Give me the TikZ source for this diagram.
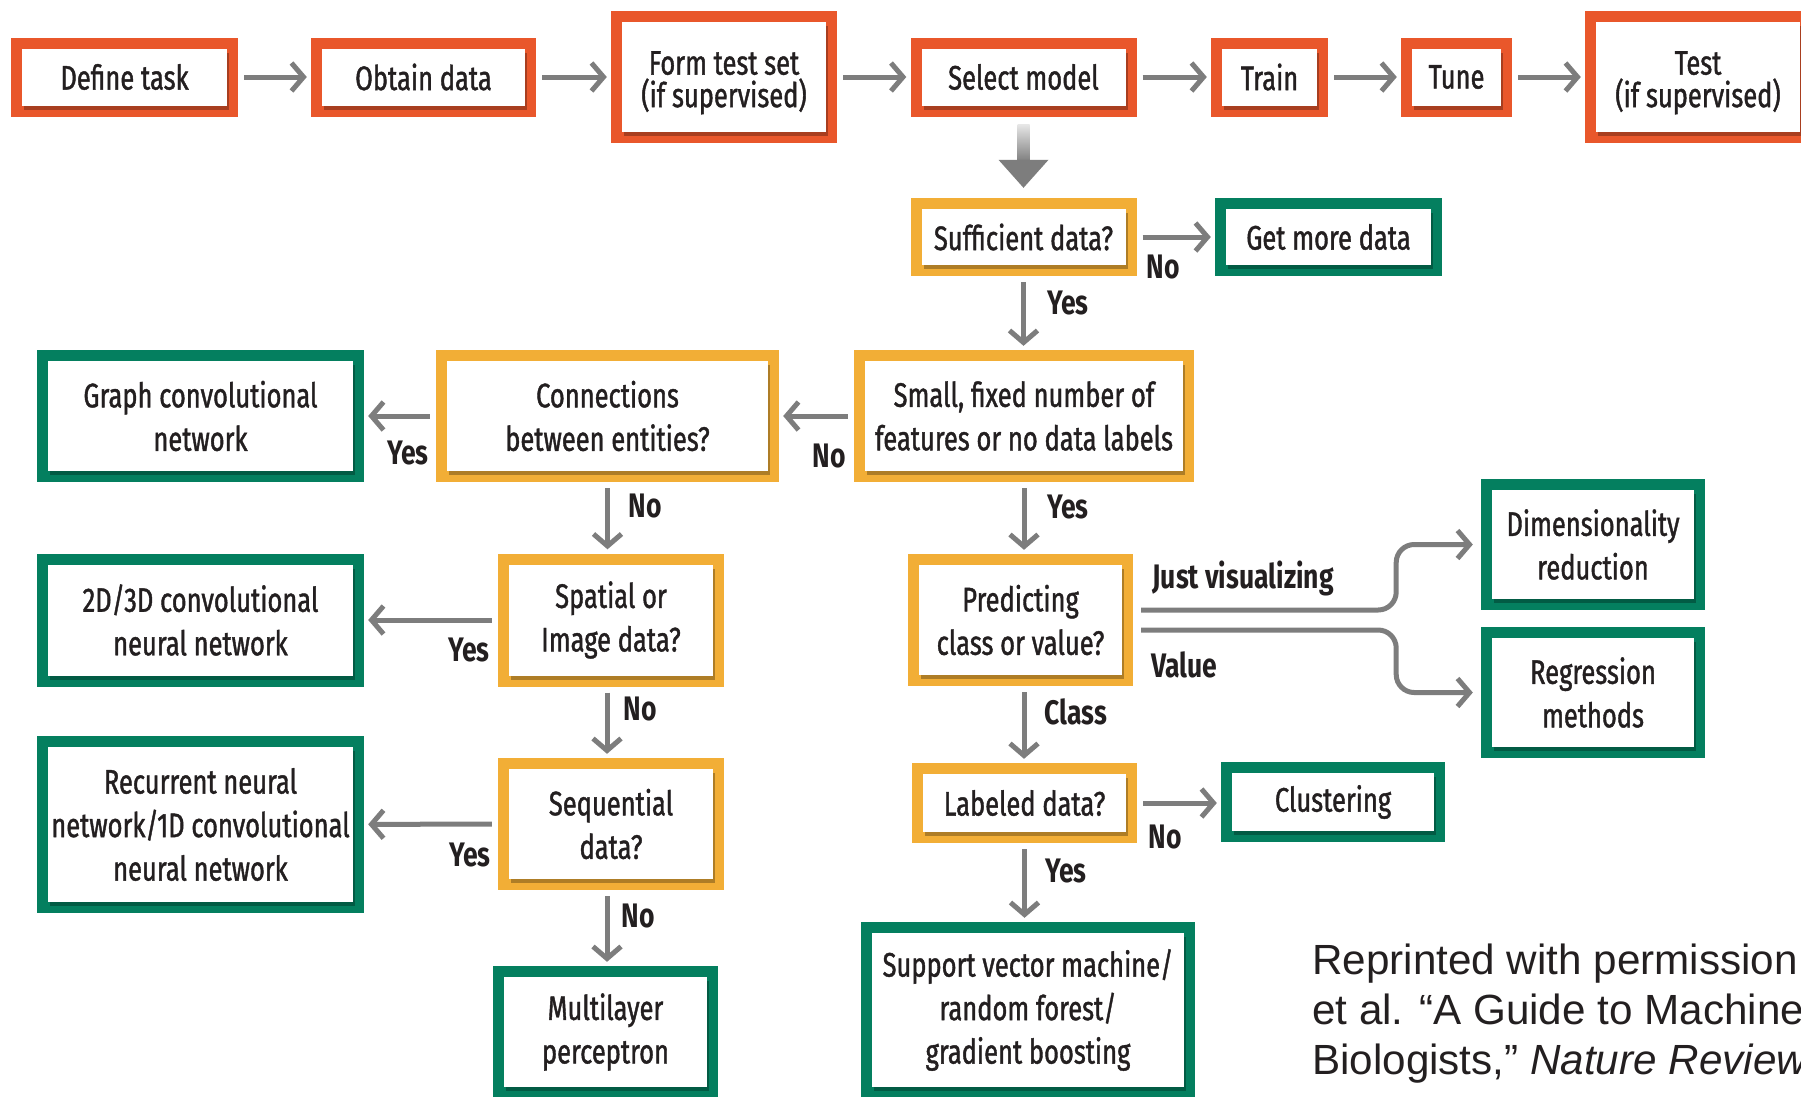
\documentclass[tikz,border=0pt]{standalone}
\usepackage{fontspec}
\setmainfont{Liberation Sans}
\newfontfamily\boxfont[FakeStretch=0.75,FakeBold=1.2]{Fira Sans}
\newfontfamily\labfont[FakeStretch=0.78]{Fira Sans}
\newcommand\boxtext{\boxfont\fontsize{34}{43.5}\selectfont}
\newcommand\toptext{\boxfont\fontsize{34}{32.5}\selectfont}
\newcommand\labtext{\labfont\bfseries\fontsize{34}{40}\selectfont}
\newcommand\captext{\fontsize{42.2}{50}\selectfont}
% extra head room that lowers a two-line heading a little
\newcommand\lowerstrut{\rule{0pt}{35pt}}
\usetikzlibrary{arrows.meta}

\definecolor{orangeF}{RGB}{233,87,43}
\definecolor{amberF}{RGB}{242,174,54}
\definecolor{greenF}{RGB}{4,127,95}
\definecolor{arrowgray}{RGB}{125,125,125}
\definecolor{ink}{RGB}{35,31,32}

\tikzset{
  panel/.style={rectangle, fill=#1, inner sep=0pt, align=center,
    font=\boxtext, text=ink,
    path picture={
      \fill[black, opacity=0.28]
        ([xshift=13pt,yshift=7pt]path picture bounding box.south west) rectangle
        ([xshift=-9pt,yshift=-15pt]path picture bounding box.north east);
      \fill[white]
        ([xshift=11pt,yshift=11pt]path picture bounding box.south west) rectangle
        ([xshift=-11pt,yshift=-11pt]path picture bounding box.north east);
    }},
  obox/.style={panel=orangeF, font=\toptext},
  ybox/.style={panel=amberF},
  gbox/.style={panel=greenF},
  flow/.style={draw=arrowgray, line width=5pt,
    -{Straight Barb[length=12pt,width=28pt]},
    shorten <=6pt, shorten >=4pt},
  curveflow/.style={flow, rounded corners=18pt, shorten <=8pt, shorten >=8pt},
  lab/.style={font=\labtext, text=ink, inner sep=0pt},
}

\begin{document}
\begin{tikzpicture}[x=1pt,y=-1pt]
\useasboundingbox (0,0) rectangle (1801,1096);
\clip (0,0) rectangle (1801,1096);
\fill[white] (0,0) rectangle (1801,1096);

% workflow row
\node[obox, minimum width=227pt, minimum height=79pt] (define) at (124.5,77) {Define task};
\node[obox, minimum width=225pt, minimum height=79pt] (obtain) at (423.5,77) {Obtain data};
\node[obox, minimum width=226pt, minimum height=132pt] (formtest) at (724,77) {\lowerstrut Form test set\\(if supervised)};
\node[obox, minimum width=226pt, minimum height=79pt] (select) at (1023.5,77) {Select model};
\node[obox, minimum width=117pt, minimum height=79pt] (train) at (1269.5,77) {Train};
\node[obox, minimum width=111pt, minimum height=79pt] (tune) at (1456.5,77) {Tune};
\node[obox, minimum width=226pt, minimum height=132pt] (test) at (1698,77) {\lowerstrut Test\\(if supervised)};

\draw[flow] (define) -- (obtain);
\draw[flow] (obtain) -- (formtest);
\draw[flow] (formtest) -- (select);
\draw[flow] (select) -- (train);
\draw[flow] (train) -- (tune);
\draw[flow] (tune) -- (test);

% decision tree
\node[ybox, minimum width=226pt, minimum height=78pt] (suff) at (1023.5,237) {Sufficient data?};
\node[gbox, minimum width=227pt, minimum height=78pt] (getmore) at (1328.5,237) {Get more data};
\node[ybox, minimum width=340pt, minimum height=132pt] (small) at (1024,416) {Small, fixed number of\\features or no data labels};
\node[ybox, minimum width=343pt, minimum height=132pt] (conn) at (607.5,416) {Connections\\between entities?};
\node[gbox, minimum width=327pt, minimum height=132pt] (graph) at (200.5,416) {Graph convolutional\\network};
\node[ybox, minimum width=226pt, minimum height=133pt] (spatial) at (611,620) {Spatial or\\Image data?};
\node[gbox, minimum width=327pt, minimum height=133pt] (twod) at (200.5,620) {2D/3D convolutional\\neural network};
\node[ybox, minimum width=226pt, minimum height=132pt] (seq) at (611,824) {Sequential\\data?};
\node[gbox, minimum width=327pt, minimum height=177pt] (rnn) at (200.5,824.5) {Recurrent neural\\network/1D convolutional\\neural network};
\node[gbox, minimum width=225pt, minimum height=132pt] (mlp) at (605.5,1032) {Multilayer\\perceptron};
\node[ybox, minimum width=225pt, minimum height=132pt] (pred) at (1020.5,620) {Predicting\\class or value?};
\node[gbox, minimum width=224pt, minimum height=131pt] (dimred) at (1593,544.5) {Dimensionality\\reduction};
\node[gbox, minimum width=224pt, minimum height=131pt] (regr) at (1593,692.5) {Regression\\methods};
\node[ybox, minimum width=225pt, minimum height=80pt] (labeled) at (1024.5,803) {Labeled data?};
\node[gbox, minimum width=224pt, minimum height=80pt] (clus) at (1333,802) {Clustering};
\node[gbox, minimum width=334pt, minimum height=176pt] (svm) at (1028,1010) {Support vector machine/\\random forest/\\gradient boosting};

% broad arrow from the model choice into the tree
\shade[top color=gray!20, bottom color=arrowgray]
  ([xshift=-6pt,yshift=-8pt]select.south) rectangle ([xshift=6pt,yshift=36pt]suff.north);
\fill[arrowgray] ([xshift=-25pt,yshift=38pt]suff.north) -- ([xshift=25pt,yshift=38pt]suff.north)
  -- ([yshift=10pt]suff.north) -- cycle;

% connectors
\draw[flow] (suff) -- (getmore);
\draw[flow] (suff.south) -- (suff.south |- small.north);
\draw[flow] (small) -- (conn);
\draw[flow] (conn) -- (graph);
\draw[flow] (conn.south) -- (conn.south |- spatial.north);
\draw[flow] (spatial) -- (twod);
\draw[flow] ([xshift=-4pt]spatial.south) -- ([xshift=-4pt]spatial.south |- seq.north);
\draw[flow] (seq) -- (rnn);
\draw[flow] ([xshift=-4pt]seq.south) -- ([xshift=-4pt]seq.south |- mlp.north);
\draw[flow] (small.south) -- (small.south |- pred.north);
\draw[flow] (small.south |- pred.south) -- (small.south |- labeled.north);
\draw[flow] (labeled.east) -- (labeled.east -| clus.west);
\draw[flow] (labeled.south) -- (labeled.south |- svm.north);
\draw[curveflow] ([yshift=10pt]pred.east) -- ++(263,0) |- (dimred.west);
\draw[curveflow] ([yshift=-10pt]pred.east) -- ++(263,0) |- (regr.west);

% branch labels
\node[lab] (noGet) at (1163,267) {No};
\node[lab] (yesSuff) at (1068,303) {Yes};
\node[lab] (noSmall) at (829,456) {No};
\node[lab] (yesConn) at (408,453) {Yes};
\node[lab] (noConn) at (645,506) {No};
\node[lab] (yesSmall) at (1068,507) {Yes};
\node[lab] (yesSpat) at (469,650) {Yes};
\node[lab] (noSpat) at (640,709) {No};
\node[lab] (yesSeq) at (470,855) {Yes};
\node[lab] (noSeq) at (638,916) {No};
\node[lab] (justvis) at (1243,578) {Just visualizing};
\node[lab] (value) at (1184,665) {Value};
\node[lab] (class) at (1076,712) {Class};
\node[lab] (noLab) at (1165,837) {No};
\node[lab] (yesLab) at (1066,871) {Yes};

% credit line
\node[anchor=north west, align=left, inner sep=0pt, font=\captext, text=ink] (credit)
  at (1312,944) {Reprinted with permission\\et al. “A Guide to Machine\\Biologists,” \textit{Nature Review}};
\end{tikzpicture}
\end{document}
